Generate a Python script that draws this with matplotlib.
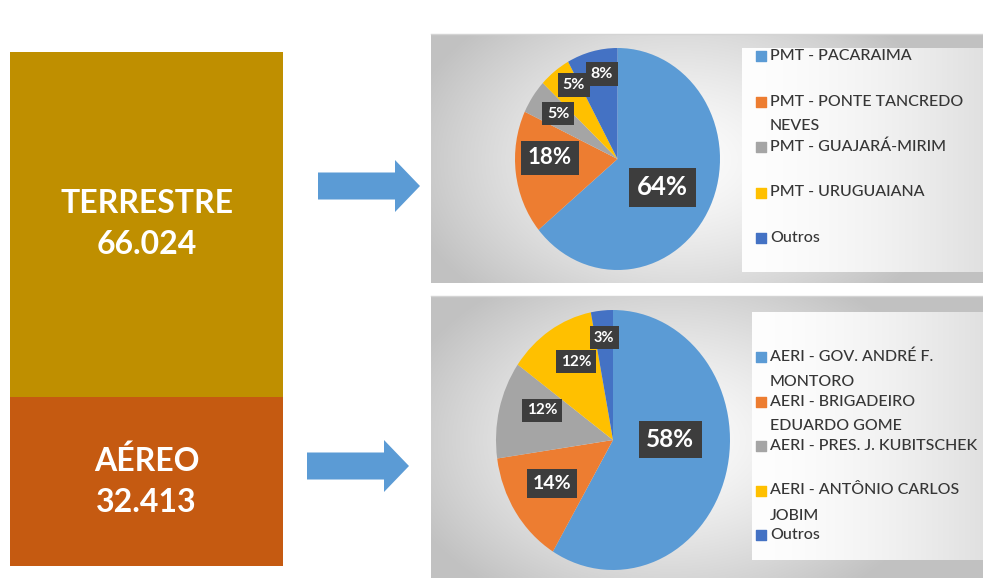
import numpy as np
import matplotlib.pyplot as plt
from matplotlib.patches import FancyArrow

plt.rcParams['font.family'] = ['Lato', 'DejaVu Sans']

W, H = 983, 578

# totals per mode
modes = ["AÉREO", "TERRESTRE"]
mode_totals = [32413, 66024]
mode_colors = ["#C55A11", "#BF8F00"]

# land ports (PMT)
land_labels = ["PMT - PACARAIMA", "PMT - PONTE TANCREDO\nNEVES", "PMT - GUAJARÁ-MIRIM",
               "PMT - URUGUAIANA", "Outros"]
land_shares = [64, 18, 5, 5, 8]

# airports (AERI)
air_labels = ["AERI - GOV. ANDRÉ F.\nMONTORO", "AERI - BRIGADEIRO\nEDUARDO GOME",
              "AERI - PRES. J. KUBITSCHEK", "AERI - ANTÔNIO CARLOS\nJOBIM", "Outros"]
air_shares = [58, 14, 12, 12, 3]

slice_colors = ["#5B9BD5", "#ED7D31", "#A5A5A5", "#FFC000", "#4472C4"]


def px_axes(x0, y0, x1, y1, **kw):
    return fig.add_axes([x0 / W, 1 - y1 / H, (x1 - x0) / W, (y1 - y0) / H], **kw)


def gradient_box(ax, x0, y0, x1, y1, img, lo, hi):
    rgb = np.array(lo)[None, None, :] * (1 - img[..., None]) + np.array(hi)[None, None, :] * img[..., None]
    ax.imshow(rgb, extent=(x0, x1, y1, y0), origin='upper', interpolation='bilinear', zorder=0)


fig = plt.figure(figsize=(W / 100, H / 100), dpi=100)
fig.patch.set_facecolor('white')

# background layer in pixel coordinates
bg = fig.add_axes([0, 0, 1, 1], zorder=0)

panels = [(431, 34, 983, 283, 680, 160), (431, 296, 983, 578, 670, 440)]
for x0, y0, x1, y1, cx, cy in panels:
    xs = np.linspace(x0, x1, 300)
    ys = np.linspace(y0, y1, 150)
    gx, gy = np.meshgrid(xs, ys)
    d = np.sqrt(((gx - cx) / 280) ** 2 + ((gy - cy) / 190) ** 2)
    d = np.clip(d, 0, 1) ** 1.4
    gradient_box(bg, x0, y0, x1, y1, d, (0.99, 0.99, 0.99), (0.76, 0.76, 0.76))
    bg.plot([x0, x1], [y0, y0], color='#d4d4d4', lw=1, zorder=1)

# legend boxes
for x0, y0, x1, y1 in [(742, 48, 983, 272), (752, 312, 983, 560)]:
    xs = np.linspace(0, 1, 200)
    ys = np.linspace(0, 1, 100)
    gx, gy = np.meshgrid(xs, ys)
    gradient_box(bg, x0, y0, x1, y1, gx ** 1.6 * 0.85, (0.995, 0.995, 0.995), (0.86, 0.86, 0.86))

# arrows
bg.add_patch(FancyArrow(318, 186, 102, 0, width=27, head_width=52, head_length=25,
                        length_includes_head=True, color='#5B9BD5', lw=0, zorder=2))
bg.add_patch(FancyArrow(307, 466, 102, 0, width=27, head_width=52, head_length=25,
                        length_includes_head=True, color='#5B9BD5', lw=0, zorder=2))

bg.set_xlim(0, W)
bg.set_ylim(H, 0)
bg.set_aspect('auto')
bg.axis('off')

# stacked total bar
axb = px_axes(10, 52, 283, 566, zorder=1)
bottom = 0
for name, val, col in zip(modes, mode_totals, mode_colors):
    axb.bar(0, val, bottom=bottom, width=1, color=col, edgecolor='none')
    axb.text(0, bottom + val / 2, f"{name}\n{val:,}".replace(",", "."), ha='center', va='center',
             color='white', fontsize=23, fontweight='bold', linespacing=1.5)
    bottom += val
axb.set_xlim(-0.5, 0.5)
axb.set_ylim(0, bottom)
axb.axis('off')


def draw_pie(box, shares, label_r, label_shift, label_fs):
    ax = px_axes(*box, zorder=2)
    ax.patch.set_alpha(0)
    wedges, _ = ax.pie(shares, colors=slice_colors, startangle=90, counterclock=False,
                       radius=1, wedgeprops=dict(linewidth=0))
    for w, v, r, sh, fs in zip(wedges, shares, label_r, label_shift, label_fs):
        ang = np.deg2rad((w.theta1 + w.theta2) / 2 + sh)
        ax.text(r * np.cos(ang), r * np.sin(ang), f"{v}%", ha='center', va='center',
                color='white', fontsize=fs, fontweight='bold',
                bbox=dict(boxstyle='square,pad=0.3', fc='#3d3d3d', ec='none'))
    ax.set_aspect('auto')
    ax.set_xlim(-1, 1)
    ax.set_ylim(-1, 1)
    ax.axis('off')


draw_pie((515, 48, 720, 270), land_shares,
         [0.51, 0.66, 0.71, 0.79, 0.78], [-5, -8, -1, -5, -3], [18.5, 16, 11.5, 11.5, 11.5])
draw_pie((496, 310, 730, 570), air_shares,
         [0.49, 0.62, 0.65, 0.68, 0.79], [16, -1, -7, -5, 0], [17.5, 14, 11, 11, 10.5])


def draw_legend(labels, x_mark, x_text, y_first, step):
    for i, (lab, col) in enumerate(zip(labels, slice_colors)):
        y = y_first + i * step
        bg.scatter([x_mark], [y], marker='s', s=55, color=col, zorder=3)
        for k, line in enumerate(lab.split("\n")):
            bg.text(x_text, y + k * 25, line, ha='left', va='center', fontsize=11.5,
                    fontweight='medium', color='#363636', zorder=3)


draw_legend(land_labels, 761, 770, 56, 45.5)
draw_legend(air_labels, 761, 770, 357, 44.5)

fig.savefig("out.png", dpi=100)
